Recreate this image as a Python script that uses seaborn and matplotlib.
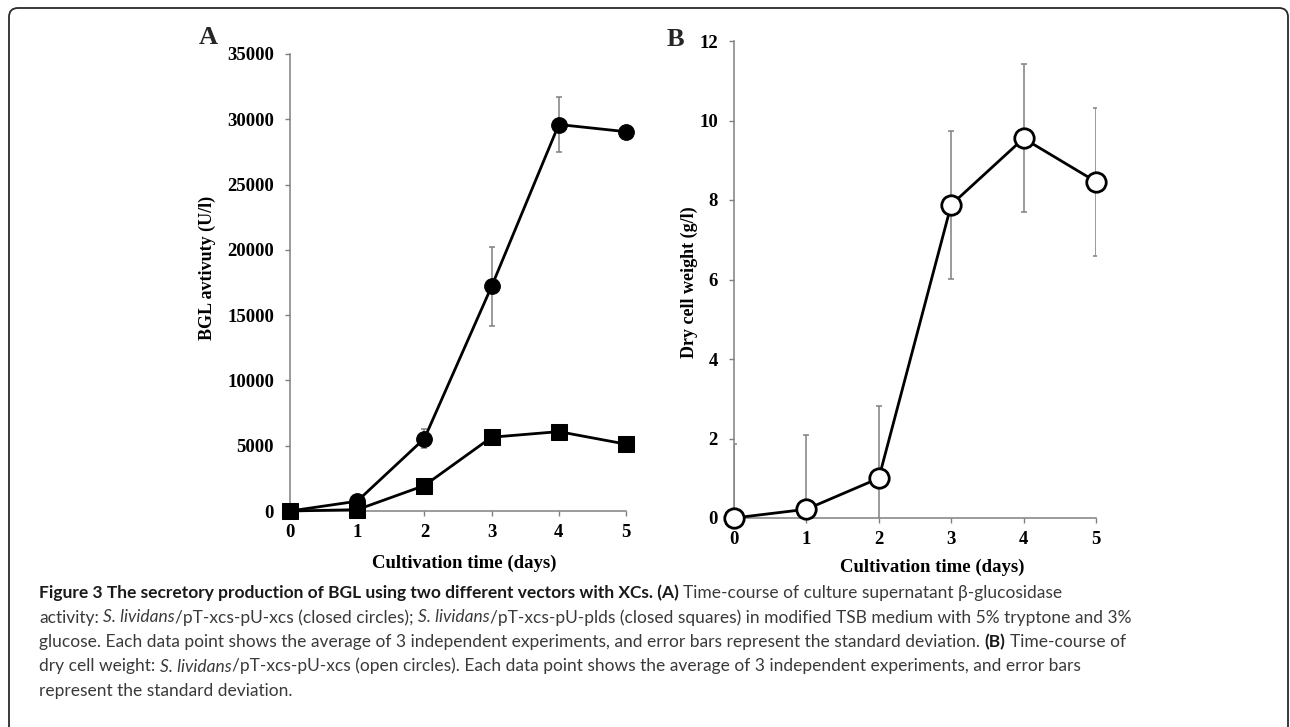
import numpy as np
import pandas as pd
import matplotlib
matplotlib.use("Agg")
import matplotlib.pyplot as plt
from matplotlib.path import Path
from matplotlib.patches import PathPatch
import seaborn as sns

# ---------------- data ----------------
days = [0, 1, 2, 3, 4, 5]
bgl_xcs = [0, 750, 5550, 17200, 29600, 29050]
bgl_xcs_sd = [0, 200, 700, 3000, 2100, 300]
bgl_plds = [0, 100, 1950, 5650, 6080, 5120]
bgl_plds_sd = [0, 50, 300, 300, 300, 300]
dcw = [0, 0.22, 1.0, 7.88, 9.55, 8.46]
dcw_sd = [1.87, 1.87, 1.82, 1.86, 1.86, 1.86]

a_yticks = [0, 5000, 10000, 15000, 20000, 25000, 30000, 35000]
b_yticks = [0, 2, 4, 6, 8, 10, 12]
xlabel = "Cultivation time (days)"
a_ylabel = "BGL avtivuty (U/l)"
b_ylabel = "Dry cell weight (g/l)"

caption_lines = [
    [("Figure 3 The secretory production of BGL using two different vectors with XCs. (A)", "bold", "normal"),
     (" Time-course of culture supernatant \u03b2-glucosidase", "normal", "normal")],
    [("activity: ", "normal", "normal"), ("S. lividans", "normal", "italic"),
     ("/pT-xcs-pU-xcs (closed circles); ", "normal", "normal"), ("S. lividans", "normal", "italic"),
     ("/pT-xcs-pU-plds (closed squares) in modified TSB medium with 5% tryptone and 3%", "normal", "normal")],
    [("glucose. Each data point shows the average of 3 independent experiments, and error bars represent the standard deviation. ", "normal", "normal"),
     ("(B)", "bold", "normal"), (" Time-course of", "normal", "normal")],
    [("dry cell weight: ", "normal", "normal"), ("S. lividans", "normal", "italic"),
     ("/pT-xcs-pU-xcs (open circles). Each data point shows the average of 3 independent experiments, and error bars", "normal", "normal")],
    [("represent the standard deviation.", "normal", "normal")],
]

# ---------------- style ----------------
sns.set_theme(style="white")
plt.rcParams["font.family"] = ["Liberation Serif", "DejaVu Serif"]
plt.rcParams["font.weight"] = "bold"
plt.rcParams["axes.labelweight"] = "bold"

W, H = 1290, 727
fig = plt.figure(figsize=(W / 100, H / 100), dpi=100)
fig.patch.set_facecolor("white")

GREY = "#808080"


def px_axes(left, top, right, bottom):
    return fig.add_axes([left / W, 1 - bottom / H, (right - left) / W, (bottom - top) / H])


axA = px_axes(290, 54, 626, 511)
axB = px_axes(734, 41, 1096, 518)

dfA1 = pd.DataFrame({"day": days, "val": bgl_xcs})
dfA2 = pd.DataFrame({"day": days, "val": bgl_plds})
dfB = pd.DataFrame({"day": days, "val": dcw})

# error bars (behind markers)
axA.errorbar(days, bgl_xcs, yerr=bgl_xcs_sd, fmt="none", ecolor=GREY, elinewidth=1.1,
             capsize=2.2, capthick=1.1, zorder=2)
axA.errorbar(days, bgl_plds, yerr=bgl_plds_sd, fmt="none", ecolor=GREY, elinewidth=1.1,
             capsize=2.2, capthick=1.1, zorder=2)
axB.errorbar(days, dcw, yerr=dcw_sd, fmt="none", ecolor=GREY, elinewidth=1.1,
             capsize=2.2, capthick=1.1, zorder=2)

sns.lineplot(data=dfA2, x="day", y="val", ax=axA, color="black", linewidth=2.0,
             marker="s", markersize=12, markeredgecolor="black", markerfacecolor="black",
             clip_on=False, zorder=5)
sns.lineplot(data=dfA1, x="day", y="val", ax=axA, color="black", linewidth=2.0,
             marker="o", markersize=11.3, markeredgecolor="black", markerfacecolor="black",
             clip_on=False, zorder=6)
sns.lineplot(data=dfB, x="day", y="val", ax=axB, color="black", linewidth=2.0,
             marker="o", markersize=14, markeredgecolor="black", markerfacecolor="white",
             markeredgewidth=2.0, clip_on=False, zorder=6)

for ax, yt in ((axA, a_yticks), (axB, b_yticks)):
    ax.set_xlim(0, 5)
    ax.set_ylim(yt[0], yt[-1])
    ax.set_xticks(days)
    ax.set_yticks(yt)
    ax.set_xticklabels([str(d) for d in days])
    ax.set_yticklabels([str(v) for v in yt])
    for s in ("top", "right"):
        ax.spines[s].set_visible(False)
    for s in ("left", "bottom"):
        ax.spines[s].set_color(GREY)
        ax.spines[s].set_linewidth(1.1)
    ax.tick_params(axis="both", which="major", direction="out", length=3.6, width=1.0,
                   color=GREY, labelsize=13.5, labelcolor="black", left=True, bottom=True)
    ax.tick_params(axis="y", pad=8)
    ax.tick_params(axis="x", pad=6)
    ax.set_facecolor("white")
    ax.grid(False)
    for lab in ax.get_xticklabels() + ax.get_yticklabels():
        lab.set_fontweight("bold")

axA.set_xlabel(xlabel, fontsize=13.5, fontweight="bold", color="black")
axA.set_ylabel(a_ylabel, fontsize=13, fontweight="bold", color="black")
axB.set_xlabel(xlabel, fontsize=13.5, fontweight="bold", color="black")
axB.set_ylabel(b_ylabel, fontsize=13, fontweight="bold", color="black")
axA.xaxis.set_label_coords((464 - 290) / 336, (511 - 555) / 457)
axA.yaxis.set_label_coords((216 - 290) / 336, (511 - 268) / 457)
axB.xaxis.set_label_coords((932 - 734) / 362, (518 - 559) / 477)
axB.yaxis.set_label_coords((698 - 734) / 362, (518 - 282) / 477)

# panel letters
fig.text(208 / W, 1 - 38 / H, "A", fontsize=19, fontweight="bold", ha="center", va="center")
fig.text(675 / W, 1 - 39 / H, "B", fontsize=19, fontweight="bold", ha="center", va="center")

# ---------------- frame (top & sides with rounded corners) ----------------
def fx(x):
    return x / W


def fy(y):
    return 1 - y / H


r = 9
verts = [(fx(9), fy(735)), (fx(9), fy(8 + r)), (fx(9), fy(8)), (fx(9 + r), fy(8)),
         (fx(1288 - r), fy(8)), (fx(1288), fy(8)), (fx(1288), fy(8 + r)), (fx(1288), fy(735))]
codes = [Path.MOVETO, Path.LINETO, Path.CURVE3, Path.CURVE3, Path.LINETO, Path.CURVE3,
         Path.CURVE3, Path.LINETO]
fig.patches.append(PathPatch(Path(verts, codes), transform=fig.transFigure, fill=False,
                             edgecolor="#2a2a2a", linewidth=1.3, zorder=10))

# ---------------- caption ----------------
CAP_FONT = ["Lato", "Open Sans", "DejaVu Sans"]
renderer = fig.canvas.get_renderer()


def text_width(s, size, weight="normal", style="normal"):
    t = fig.text(0, 0, s, fontsize=size, fontweight=weight, fontstyle=style, family=CAP_FONT)
    w = t.get_window_extent(renderer=renderer).width
    t.remove()
    return w


ref_line = caption_lines[2][0][0]
cap_size = 10 * 940 / text_width(ref_line.strip(), 10)
space_w = {w: text_width("a a", cap_size, w) - text_width("aa", cap_size, w) for w in ("normal", "bold")}

baselines = [598, 622.5, 647, 671.5, 696]
for line, yb in zip(caption_lines, baselines):
    x = 39
    for txt, wgt, sty in line:
        lead = len(txt) - len(txt.lstrip(" "))
        trail = len(txt) - len(txt.rstrip(" "))
        core = txt.strip(" ")
        x += lead * space_w[wgt]
        col = "#1a1a1a" if wgt == "bold" else "#3a3a3a"
        t = fig.text(x / W, 1 - yb / H, core, fontsize=cap_size, fontweight=wgt, fontstyle=sty,
                     family=CAP_FONT, color=col, ha="left", va="baseline")
        x += t.get_window_extent(renderer=renderer).width + trail * space_w[wgt]

fig.savefig("out.png", dpi=100, facecolor="white")
